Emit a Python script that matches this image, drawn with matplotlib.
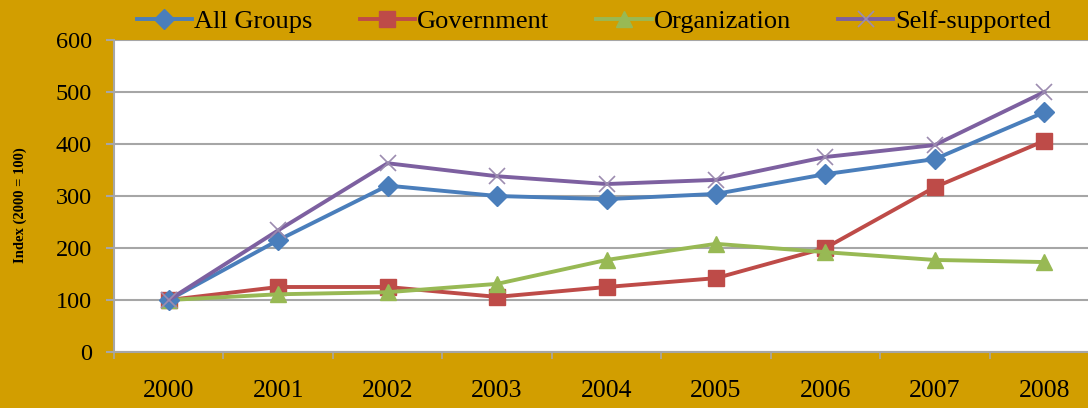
import matplotlib
matplotlib.use('Agg')
import matplotlib.pyplot as plt
from matplotlib.ticker import FixedLocator

# Data
years = ['2000', '2001', '2002', '2003', '2004', '2005', '2006', '2007', '2008']
all_groups = [100, 215, 320, 300, 294, 304, 342, 371, 461]
government = [100, 125, 125, 106, 125, 142, 200, 317, 406]
organization = [100, 111, 115, 131, 177, 208, 192, 177, 173]
self_supported = [100, 234, 363, 338, 323, 331, 375, 398, 500]

plt.rcParams['font.family'] = ['Liberation Serif', 'DejaVu Serif']

bg = '#D29E00'
grid_col = '#A6A6A6'

fig = plt.figure(figsize=(10.88, 4.08), dpi=100)
fig.patch.set_facecolor(bg)
W, H = 1088, 408
ax = fig.add_axes([114 / W, (H - 352) / H, 985 / W, 312 / H])
ax.set_facecolor('white')

x = list(range(len(years)))
lw = 2.8
ax.plot(x, all_groups, color='#4A7EBB', lw=lw, marker='D', ms=10,
        label='All Groups', zorder=4)
ax.plot(x, government, color='#BE4B48', lw=lw, marker='s', ms=11,
        label='Government', zorder=3)
ax.plot(x, organization, color='#98B954', lw=lw, marker='^', ms=12,
        label='Organization', zorder=3)
ax.plot(x, self_supported, color='#7D60A0', lw=lw, marker='x', ms=12,
        mew=1.2, mec='#9C8CB0', label='Self-supported', zorder=5)

ax.set_xlim(-0.5, 8.5)
ax.set_ylim(0, 600)
ax.set_yticks(range(0, 601, 100))
ax.yaxis.grid(True, color=grid_col, lw=1.5)
ax.set_axisbelow(True)

ax.set_xticks(x)
ax.set_xticklabels(years, fontsize=18.5)
ax.xaxis.set_minor_locator(FixedLocator([i - 0.5 for i in range(len(years) + 1)]))
ax.tick_params(axis='x', which='major', length=0, pad=20)
ax.tick_params(axis='x', which='minor', length=5, width=1.2, color=grid_col)
ax.tick_params(axis='y', length=6, width=1.5, color=grid_col, labelsize=17.5, pad=10)

for side in ['top', 'right']:
    ax.spines[side].set_visible(False)
ax.spines['left'].set_color(grid_col)
ax.spines['bottom'].set_color(grid_col)
ax.spines['left'].set_linewidth(1.5)
ax.spines['bottom'].set_linewidth(1.5)

ax.set_ylabel('Index (2000 = 100)', fontsize=10.5, fontweight='bold')
ax.yaxis.set_label_coords(-87 / 985, 0.47)

fig.legend(loc='center', bbox_to_anchor=(0.546, 1 - 21 / H), ncol=4, frameon=False,
           fontsize=19, handlelength=2.1, handletextpad=0.08, columnspacing=1.78,
           borderaxespad=0)

fig.savefig('out.png', dpi=100, facecolor=bg)
